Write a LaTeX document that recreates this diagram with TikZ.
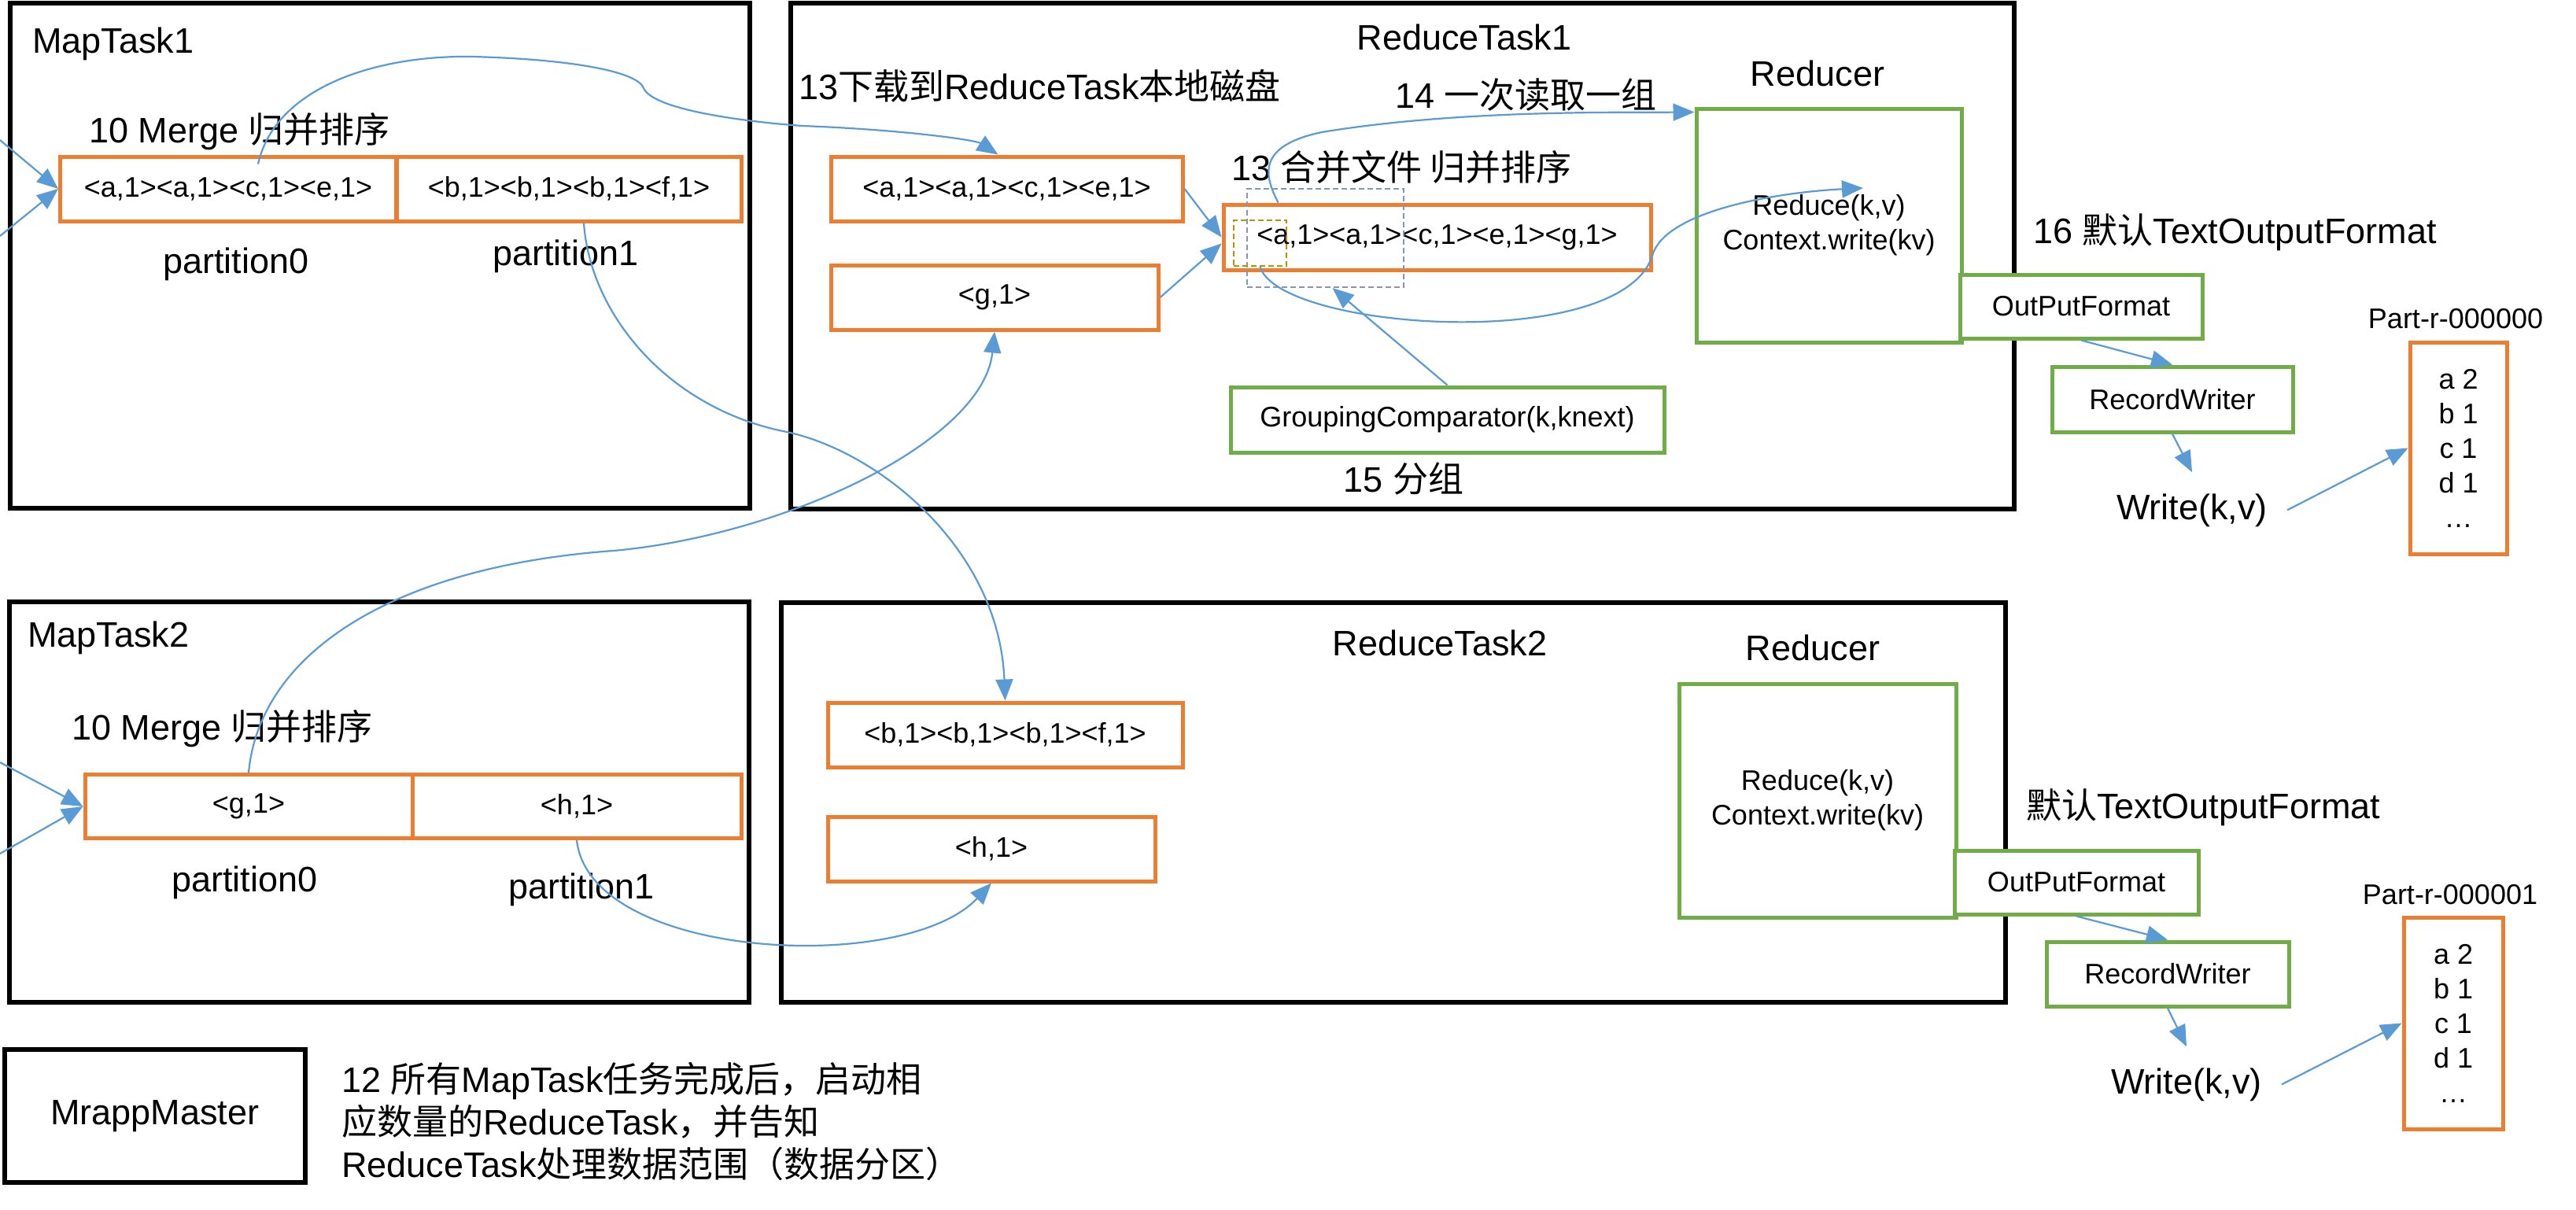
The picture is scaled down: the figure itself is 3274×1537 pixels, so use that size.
\documentclass[tikz,border=0pt]{standalone}
\usepackage{fontspec}
\setmainfont{Liberation Sans}
\newfontfamily\cjk{Noto Sans CJK SC}
\usetikzlibrary{arrows.meta,calc}
\definecolor{org}{HTML}{ED7D31}
\definecolor{grn}{HTML}{70AD47}
\definecolor{blu}{HTML}{5B9BD5}
\definecolor{dgray}{HTML}{8497B0}
\definecolor{gold}{HTML}{BF9000}
\newcommand\mybig{\fontsize{45}{54}\selectfont}
\newcommand\mysmall{\fontsize{36}{44}\selectfont}
\begin{document}
\begin{tikzpicture}[x=1pt,y=-1pt,
 container/.style={draw=black,line width=6pt,inner sep=0pt},
 obox/.style={draw=org,line width=5pt,inner sep=0pt,font=\mysmall,fill=white},
 gbox/.style={draw=grn,line width=5pt,inner sep=0pt,font=\mysmall,fill=white},
 lbl/.style={inner sep=0pt,font=\mybig},
 slbl/.style={inner sep=0pt,font=\mysmall},
 arr/.style={draw=blu,line width=2.2pt,-{Triangle[length=27pt,width=22pt]}},
 dbox/.style={line width=2pt,dash pattern=on 7pt off 4pt,inner sep=0pt},
]
\useasboundingbox[fill=white] (0,0) rectangle (3274,1537);

% containers
\node[container,minimum width=940pt,minimum height=642pt] (mt1) at (483,325) {};
\node[container,minimum width=940pt,minimum height=509pt] (mt2) at (482,1019.5) {};
\node[container,minimum width=1555pt,minimum height=643pt] (rt1) at (1782.5,325.5) {};
\node[container,minimum width=1556pt,minimum height=508pt] (rt2) at (1771,1020) {};
\node[container,minimum width=382pt,minimum height=169pt,font=\mybig] (mm) at (197,1418.5) {MrappMaster};

% labels
\node[lbl,anchor=base west] (tmt1) at (41,67) {MapTask1};
\node[lbl,anchor=base west] (tmg1) at (113,181) {10 Merge {\cjk 归并排序}};
\node[lbl,anchor=base] (tp10) at (300,347) {partition0};
\node[lbl,anchor=base] (tp11) at (719,337) {partition1};
\node[lbl,anchor=base] (trt1) at (1861,63) {ReduceTask1};
\node[lbl,anchor=base west] (tdl) at (1015,126) {13{\cjk 下载到}ReduceTask{\cjk 本地磁盘}};
\node[lbl,anchor=base west] (trd) at (1773,137) {14 {\cjk 一次读取一组}};
\node[lbl,anchor=base west] (thb) at (1565,229) {13 {\cjk 合并文件 归并排序}};
\node[lbl,anchor=base] (tfz) at (1784,625) {15 {\cjk 分组}};
\node[lbl,anchor=base] (tred1) at (2310,109) {Reducer};
\node[lbl,anchor=base west] (ttof1) at (2584,309) {16 {\cjk 默认}TextOutputFormat};
\node[lbl,anchor=base] (w1) at (2786,660) {Write(k,v)};
\node[slbl,anchor=base] (tpart1) at (3121,417) {Part-r-000000};

\node[lbl,anchor=base west] (tmt2) at (35,822) {MapTask2};
\node[lbl,anchor=base west] (tmg2) at (91,940) {10 Merge {\cjk 归并排序}};
\node[lbl,anchor=base] (tp20) at (311,1133) {partition0};
\node[lbl,anchor=base] (tp21) at (739,1142) {partition1};
\node[lbl,anchor=base] (trt2) at (1830,833) {ReduceTask2};
\node[lbl,anchor=base] (tred2) at (2304,839) {Reducer};
\node[lbl,anchor=base west] (ttof2) at (2575,1040) {{\cjk 默认}TextOutputFormat};
\node[lbl,anchor=base] (w2) at (2779,1390) {Write(k,v)};
\node[slbl,anchor=base] (tpart2) at (3114,1149) {Part-r-000001};

\node[lbl,anchor=base west] (tn1) at (434,1388) {12 {\cjk 所有}MapTask{\cjk 任务完成后，启动相}};
\node[lbl,anchor=base west] (tn2) at (434,1442) {{\cjk 应数量的}ReduceTask{\cjk ，并告知}};
\node[lbl,anchor=base west] (tn3) at (434,1496) {ReduceTask{\cjk 处理数据范围（数据分区）}};

% boxes
\node[obox,minimum width=427pt,minimum height=82pt] (p10) at (290,240) {<a,1><a,1><c,1><e,1>};
\node[obox,minimum width=438pt,minimum height=82pt] (p11) at (723,240) {<b,1><b,1><b,1><f,1>};
\node[obox,minimum width=416pt,minimum height=81pt] (p20) at (316,1025) {<g,1>};
\node[obox,minimum width=418pt,minimum height=81pt] (p21) at (733,1025) {<h,1>};
\node[obox,minimum width=447pt,minimum height=82pt] (r1a) at (1279.5,240) {<a,1><a,1><c,1><e,1>};
\node[obox,minimum width=416pt,minimum height=82pt] (r1g) at (1264,378) {<g,1>};
\node[obox,minimum width=543pt,minimum height=83pt] (mrg) at (1826.5,301.5) {<a,1><a,1><c,1><e,1><g,1>};
\node[gbox,minimum width=551pt,minimum height=83pt] (gc) at (1839.5,533.5) {GroupingComparator(k,knext)};
\node[gbox,minimum width=337pt,minimum height=297pt,align=center,fill=none] (red1) at (2324.5,286.5) {Reduce(k,v)\\Context.write(kv)};
\node[gbox,minimum width=308pt,minimum height=81pt] (of1) at (2645,389.5) {OutPutFormat};
\node[gbox,minimum width=306pt,minimum height=83pt] (rw1) at (2761,507.5) {RecordWriter};
\node[obox,minimum width=123pt,minimum height=269pt,align=center] (pt1) at (3124.5,569.5) {a 2\\b 1\\c 1\\d 1\\…};

\node[obox,minimum width=451pt,minimum height=82pt] (r2b) at (1277.5,934) {<b,1><b,1><b,1><f,1>};
\node[obox,minimum width=416pt,minimum height=82pt] (r2h) at (1260,1079) {<h,1>};
\node[gbox,minimum width=352pt,minimum height=297pt,align=center,fill=none] (red2) at (2310,1017.5) {Reduce(k,v)\\Context.write(kv)};
\node[gbox,minimum width=310pt,minimum height=81pt] (of2) at (2639,1121.5) {OutPutFormat};
\node[gbox,minimum width=308pt,minimum height=82pt] (rw2) at (2755,1238) {RecordWriter};
\node[obox,minimum width=126pt,minimum height=269pt,align=center] (pt2) at (3118,1300.5) {a 2\\b 1\\c 1\\d 1\\…};

\node[dbox,draw=dgray,minimum width=199pt,minimum height=125pt] (dg) at (1684.5,302.5) {};
\node[dbox,draw=gold,minimum width=67pt,minimum height=58pt] (dy) at (1601.5,309) {};

% connectors
\coordinate (a1s) at (0,178);
\coordinate (a2s) at (0,300);
\coordinate (b1s) at (0,969);
\coordinate (b2s) at (0,1085);
\coordinate (rin1) at (2368,239);
\draw[arr] (a1s) -- (p10.west);
\draw[arr] (a2s) -- (p10.west);
\draw[arr] (b1s) -- (p20.west);
\draw[arr] (b2s) -- (p20.west);

\draw[arr] ([xshift=38pt,yshift=-12pt]p10.north) .. controls (350,110) and (480,70) .. (600,72)
  .. controls (720,75) and (810,90) .. (818,112)
  .. controls (830,140) and (950,155) .. (1020,160)
  .. controls (1150,165) and (1240,178) .. ([xshift=-11pt]r1a.north);
\draw[arr] ([xshift=19pt]p11.south) .. controls (750,400) and (850,520) .. (1000,549)
  .. controls (1120,575) and (1270,700) .. (r2b.north);
\draw[arr] (p20.north) .. controls (330,830) and (500,720) .. (780,700)
  .. controls (1000,680) and (1250,560) .. (r1g.south);
\draw[arr] (p21.south) .. controls (750,1220) and (1150,1240) .. (r2h.south);

\draw[arr] (r1a.east) -- (mrg.west);
\draw[arr] (r1g.east) -- ([yshift=-8pt]mrg.west);
\draw[arr] (gc.north) -- ([xshift=9pt]dg.south);
\draw[arr] (dy.south) .. controls (1625,420) and (2060,450) .. (2100,325)
  .. controls (2115,270) and (2250,245) .. (rin1);
\draw[arr] ([xshift=72pt]mrg.north west) .. controls (1605,220) and (1600,185) .. (1680,168)
  .. controls (1850,140) and (2050,143) .. ([yshift=-7pt]red1.north west);

\draw[arr] (of1.south) -- (rw1.north);
\draw[arr] (rw1.south) -- ([yshift=27pt]w1.north);
\draw[arr] ([xshift=25pt]w1.east) -- (pt1.west);
\draw[arr] (of2.south) -- (rw2.north);
\draw[arr] (rw2.south) -- ([yshift=27pt]w2.north);
\draw[arr] ([xshift=25pt]w2.east) -- (pt2.west);
\end{tikzpicture}
\end{document}
